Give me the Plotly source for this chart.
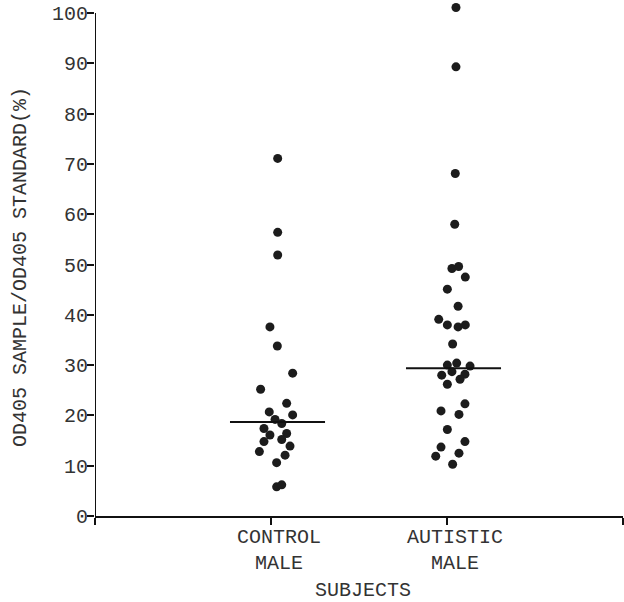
import plotly.graph_objects as go

# ---- data ----
categories = ["CONTROL<br>MALE", "AUTISTIC<br>MALE"]
cat_pos = [1, 2]

control_values = [71.1, 56.4, 51.9, 37.6, 33.8, 28.4, 25.2, 22.4, 20.7, 20.1, 19.2, 18.4,
                  17.4, 16.1, 16.4, 14.8, 15.2, 13.9, 12.8, 12.1, 10.6, 5.8, 6.2]
control_jitter = [0.038, 0.038, 0.038, -0.006, 0.036, 0.123, -0.059, 0.089, -0.010, 0.123,
                  0.023, 0.061, -0.040, -0.006, 0.089, -0.040, 0.061, 0.108, -0.066, 0.080,
                  0.032, 0.032, 0.061]

autistic_values = [101.1, 89.3, 68.1, 58.0, 49.2, 49.6, 47.5, 45.1, 41.7, 39.1, 38.0, 37.6,
                   38.0, 34.2, 30.0, 30.4, 29.8, 28.7, 28.0, 28.2, 26.2, 27.2, 22.3, 20.9,
                   20.2, 17.2, 14.8, 13.7, 11.9, 12.5, 10.3]
autistic_jitter = [0.051, 0.051, 0.047, 0.044, 0.028, 0.066, 0.104, 0.002, 0.063, -0.047,
                   0.002, 0.063, 0.104, 0.032, 0.002, 0.055, 0.131, 0.028, -0.030, 0.102,
                   0.002, 0.074, 0.102, -0.034, 0.068, 0.002, 0.102, -0.034, -0.064, 0.068,
                   0.032]

medians = [18.7, 29.4]

y_ticks = [0, 10, 20, 30, 40, 50, 60, 70, 80, 90, 100]
x_title = "SUBJECTS"
y_title = "OD405 SAMPLE/OD405 STANDARD(%)"

# ---- styles ----
FONT = "Liberation Mono, Courier New, monospace"
TXT = "#333333"
DOT = "#1c1c1c"
AX = "#111111"

fig = go.Figure()

groups = [(control_values, control_jitter), (autistic_values, autistic_jitter)]
for pos, (vals, jit) in zip(cat_pos, groups):
    fig.add_trace(go.Scatter(
        x=[pos + j for j in jit], y=vals, mode="markers",
        marker=dict(size=9, color=DOT, line=dict(width=0)),
        cliponaxis=False, showlegend=False, hoverinfo="y"))

for pos, med in zip(cat_pos, medians):
    fig.add_trace(go.Scatter(
        x=[pos - 0.233, pos + 0.307], y=[med, med], mode="lines",
        line=dict(color=AX, width=2), showlegend=False, hoverinfo="skip"))

annotations = []
for pos, lab in zip(cat_pos, categories):
    annotations.append(dict(
        x=pos + 0.048, y=0, xref="x", yref="y", yanchor="top", yshift=-8,
        text=lab, showarrow=False, align="center",
        font=dict(family=FONT, size=20, color=TXT)))
annotations.append(dict(
    x=0.508, y=0, xref="x domain", yref="y", yanchor="top", yshift=-61,
    text=x_title, showarrow=False,
    font=dict(family=FONT, size=20, color=TXT)))
annotations.append(dict(
    x=0, y=49.5, xref="x domain", yref="y", xanchor="center", yanchor="middle", xshift=-75,
    text=y_title, textangle=-90, showarrow=False,
    font=dict(family=FONT, size=20, color=TXT)))

# y axis line drawn only up to 100 (the top tick)
shapes = [dict(type="line", xref="x", yref="y", x0=0, x1=0, y0=0, y1=y_ticks[-1],
               line=dict(color=AX, width=2), layer="above")]

fig.update_layout(
    width=624, height=602,
    margin=dict(l=95, r=1, t=3, b=86),
    paper_bgcolor="white", plot_bgcolor="white",
    font=dict(family=FONT, size=20, color=TXT),
    annotations=annotations,
    shapes=shapes,
    xaxis=dict(range=[0, 3], tickvals=[0, 1, 2, 3], showticklabels=False,
               ticks="outside", ticklen=7, tickwidth=2, tickcolor=AX,
               showline=True, linewidth=2, linecolor=AX,
               showgrid=False, zeroline=False, fixedrange=True),
    yaxis=dict(range=[0, 102], tickvals=y_ticks,
               ticks="outside", ticklen=7, tickwidth=2, tickcolor=AX,
               ticklabelstandoff=-5,
               showline=False,
               showgrid=False, zeroline=False, fixedrange=True,
               tickfont=dict(family=FONT, size=20, color=TXT)),
)

fig.write_html("out.html")
